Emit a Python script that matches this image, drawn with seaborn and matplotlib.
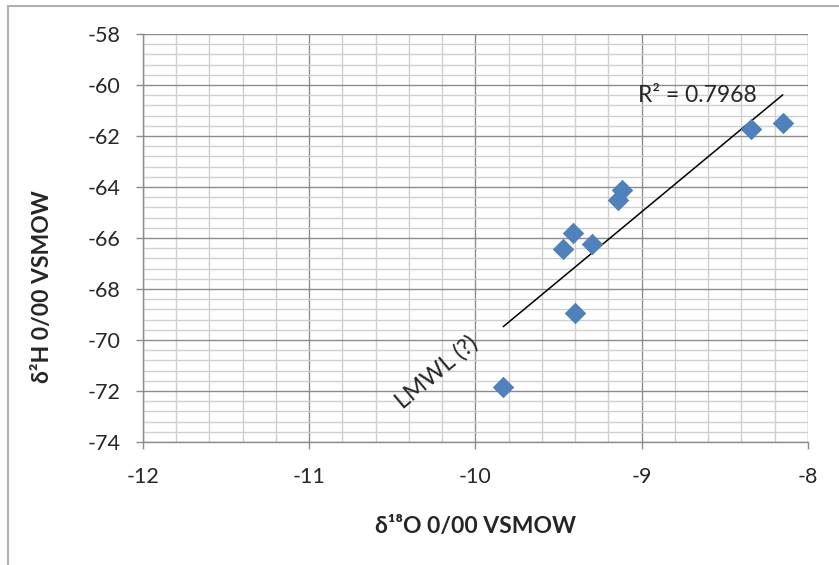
"""
Stable isotope plot: d2H vs d18O with a local meteoric water line fit.
"""

import matplotlib.pyplot as plt
import pandas as pd
import seaborn as sns
from matplotlib.lines import Line2D
from matplotlib.ticker import MultipleLocator

# values
D18O = [-9.12, -9.14, -9.415, -9.475, -9.30, -9.40, -9.833, -8.343, -8.152]
D2H = [-64.12, -64.5, -65.79, -66.44, -66.24, -68.95, -71.86, -61.74, -61.48]
R2_LABEL = "R² = 0.7968"
LINE_LABEL = "LMWL (?)"

X_LIMITS = (-12, -8)
Y_LIMITS = (-74, -58)

POINT_COLOR = "#4F81BD"
MAJOR_GRID = "#8c8c8c"
MINOR_GRID = "#cfcfcf"


def setup_style() -> None:
    sns.set_theme(style="white")
    plt.rcParams["font.family"] = ["Lato", "DejaVu Sans"]


def main() -> None:
    setup_style()
    df = pd.DataFrame({"d18O": D18O, "d2H": D2H})

    fig = plt.figure(figsize=(8.39, 5.65), dpi=100)
    ax = fig.add_axes([0.1704, 0.2177, 0.9630 - 0.1704, 0.9398 - 0.2177])

    sns.regplot(
        data=df,
        x="d18O",
        y="d2H",
        scatter=False,
        ci=None,
        truncate=True,
        color="black",
        line_kws={"lw": 1.1, "zorder": 3},
        ax=ax,
    )
    sns.scatterplot(
        data=df,
        x="d18O",
        y="d2H",
        marker="D",
        s=120,
        color=POINT_COLOR,
        edgecolor=POINT_COLOR,
        linewidth=0,
        zorder=4,
        ax=ax,
    )

    ax.set_xlim(*X_LIMITS)
    ax.set_ylim(*Y_LIMITS)
    ax.xaxis.set_major_locator(MultipleLocator(1))
    ax.xaxis.set_minor_locator(MultipleLocator(0.2))
    ax.yaxis.set_major_locator(MultipleLocator(2))
    ax.yaxis.set_minor_locator(MultipleLocator(0.4))

    ax.grid(which="major", color=MAJOR_GRID, lw=1.0, zorder=0)
    ax.grid(which="minor", color=MINOR_GRID, lw=1.0, zorder=0)
    ax.set_axisbelow(True)

    for spine in ax.spines.values():
        spine.set_color(MAJOR_GRID)
        spine.set_linewidth(1.0)
    ax.spines["top"].set_visible(False)
    ax.spines["right"].set_visible(False)

    ax.tick_params(
        which="major", direction="out", length=5, width=1.0,
        color=MAJOR_GRID, labelsize=15.5, pad=11, left=True, bottom=True,
    )
    ax.tick_params(which="minor", length=0)
    ax.tick_params(axis="x", pad=13)
    ax.set_xticklabels([f"{int(t)}" for t in ax.get_xticks()])
    ax.set_yticklabels([f"{int(t)}" for t in ax.get_yticks()])

    ax.set_xlabel("δ¹⁸O 0/00 VSMOW", fontsize=16.5, fontweight="bold")
    ax.set_ylabel("δ²H 0/00 VSMOW", fontsize=16.5, fontweight="bold")
    ax.xaxis.set_label_coords(0.5, -0.181)
    ax.yaxis.set_label_coords(-0.135, 0.38)

    ax.text(-8.668, -60.43, R2_LABEL, fontsize=16.5, ha="center", va="center", zorder=5)
    ax.text(-10.232, -71.25, LINE_LABEL, fontsize=17, ha="center", va="center",
            rotation=40, rotation_mode="anchor", zorder=5)

    # outer frame like the spreadsheet chart area
    fig.add_artist(Line2D([8 / 839, 8 / 839], [0, 1 - 6 / 565],
                          transform=fig.transFigure, color="#b0b0b0", lw=1.5))
    fig.add_artist(Line2D([8 / 839, 1], [1 - 6 / 565, 1 - 6 / 565],
                          transform=fig.transFigure, color="#b0b0b0", lw=1.5))

    fig.savefig("out.png", dpi=100)
    plt.close(fig)


if __name__ == "__main__":
    main()
